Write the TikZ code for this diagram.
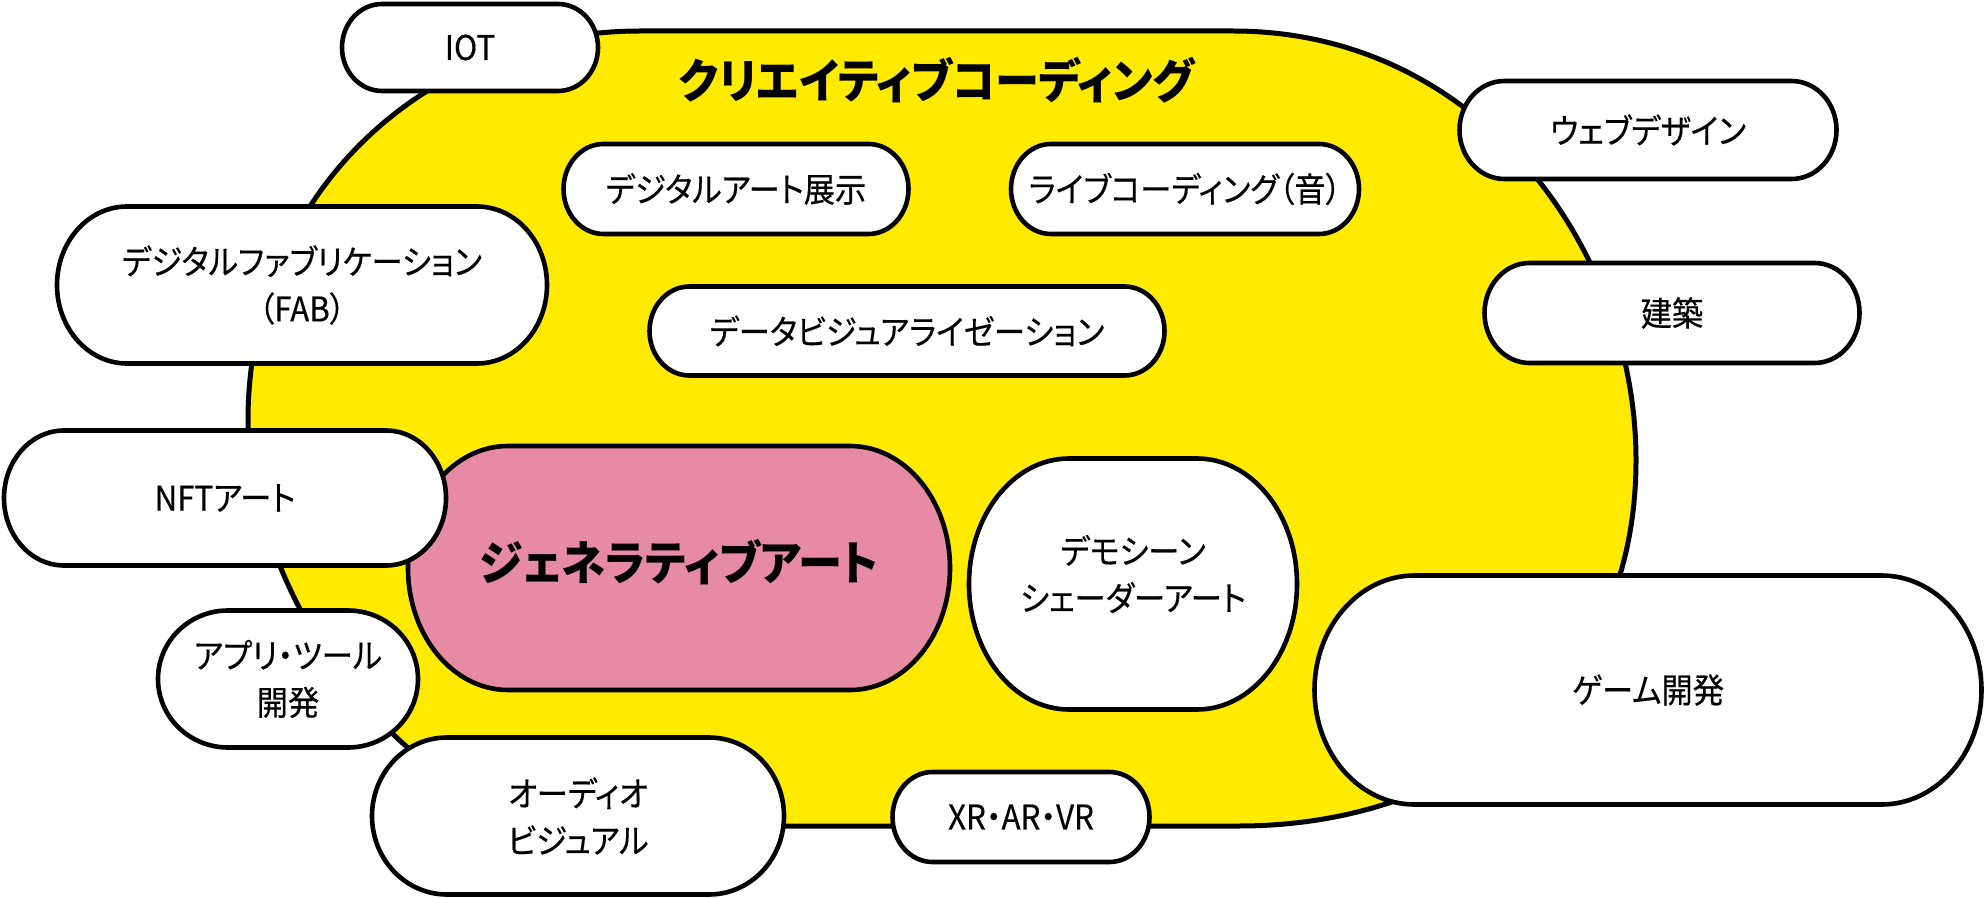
\documentclass[tikz,border=0pt]{standalone}
\usepackage{fontspec}
\newfontfamily\jp[RawFeature=+palt,FakeBold=0.35,FakeStretch=0.92]{Noto Sans CJK JP}
\newfontfamily\jpbold[RawFeature=+palt,FakeStretch=0.94]{Noto Sans CJK JP}
\definecolor{blobyellow}{HTML}{FFEA00}
\definecolor{genpink}{HTML}{E68AA6}
\tikzset{
  box/.style={line width=2.3pt, draw=black, line join=round},
  txt/.style={inner sep=0pt, align=center, font=\jp\fontsize{17}{23.5}\selectfont},
  bigtxt/.style={font=\jpbold\bfseries\fontsize{23.5}{28}\selectfont},
}
\newcommand\pill[9][]{%
  \draw[box,fill=#8] ({#3-#5/2+#7},{-(#4)+#6/2}) -- ({#3+#5/2-#7},{-(#4)+#6/2})
    arc[start angle=90,end angle=-90,x radius={#7*0.5pt},y radius={#6*0.25pt}]
    -- ({#3-#5/2+#7},{-(#4)-#6/2})
    arc[start angle=270,end angle=90,x radius={#7*0.5pt},y radius={#6*0.25pt}] -- cycle;
  \node[txt,#1] (#2) at (#3,{-(#4)}) {#9};}
\begin{document}
\begin{tikzpicture}[x=0.5pt,y=0.5pt]
\useasboundingbox (0,0) rectangle (1986,-898);
% big yellow area
\draw[line width=2.5pt, fill=blobyellow] (640,-31) -- (1233,-31)
  .. controls (1480,-31) and (1636,-250) .. (1636,-460)
  .. controls (1636,-700) and (1450,-826) .. (1239,-826)
  -- (560,-826)
  .. controls (380,-790) and (250,-580) .. (248,-420)
  .. controls (248,-200) and (420,-31) .. (640,-31) -- cycle;
\node[txt,bigtxt] (title) at (937,-80) {クリエイティブコーディング};
\pill{iot}{470}{47.5}{256}{87}{40}{white}{IOT}
\pill{exhibit}{736}{189}{345}{90}{40}{white}{デジタルアート展示}
\pill{live}{1185}{189}{348}{90}{40}{white}{ライブコーディング（音）}
\pill{web}{1648}{130}{377}{98}{45}{white}{ウェブデザイン}
\pill{fab}{302}{285}{490}{157}{70}{white}{デジタルファブリケーション\\（FAB）}
\pill{dataviz}{907}{331}{515}{89}{40}{white}{データビジュアライゼーション}
\pill{arch}{1672}{313}{375}{100}{45}{white}{建築}
\pill[bigtxt,yshift=3pt]{gen}{679}{568}{542}{244}{100}{genpink}{ジェネラティブアート}
\pill{nft}{225}{498}{442}{135}{60}{white}{NFTアート}
\pill[yshift=5pt]{demo}{1133}{584}{328}{251}{100}{white}{デモシーン\\シェーダーアート}
\pill{game}{1648}{690}{667}{229}{100}{white}{ゲーム開発}
\pill{app}{288}{679}{260}{137}{70}{white}{アプリ・ツール\\開発}
\pill{av}{578}{816}{412}{157}{75}{white}{オーディオ\\ビジュアル}
\pill{xr}{1021}{817}{257}{90}{40}{white}{XR・AR・VR}
\end{tikzpicture}
\end{document}
